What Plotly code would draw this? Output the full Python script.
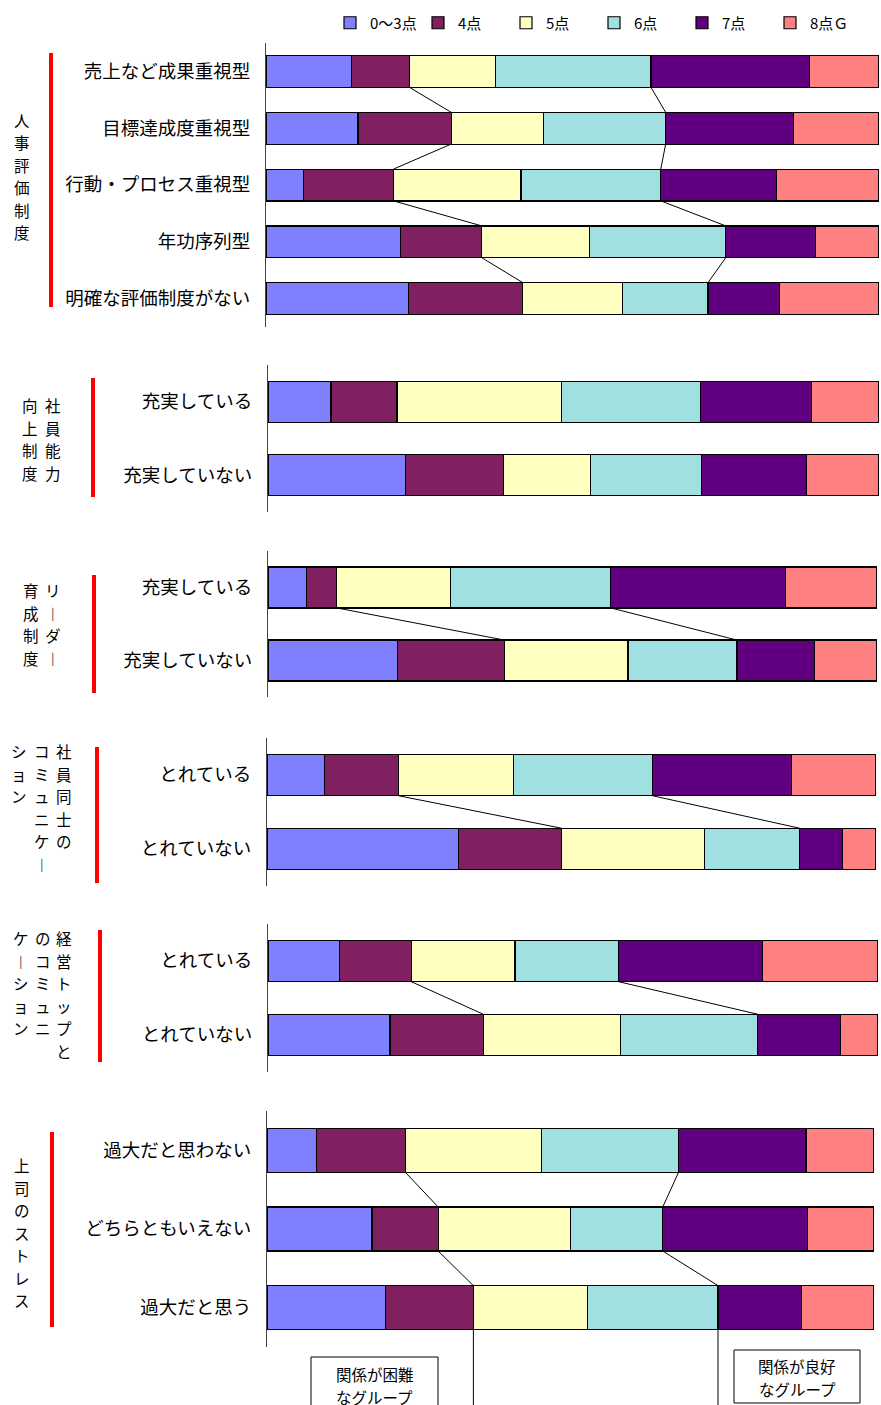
import plotly.graph_objects as go

W, H = 881, 1405

# ---------------- data ----------------
categories = ["0～3点", "4点", "5点", "6点", "7点", "8点Ｇ"]
colors = ["#8080FF", "#802060", "#FFFFC0", "#A0E0E0", "#600080", "#FF8080"]

hyoka_title = ["人事評価制度"]
hyoka_labels = ["売上など成果重視型", "目標達成度重視型", "行動・プロセス重視型", "年功序列型", "明確な評価制度がない"]
hyoka_values = [
    [13.9, 9.5, 14.0, 25.4, 25.8, 11.4],
    [15.0, 15.2, 15.1, 19.9, 20.9, 13.9],
    [6.1, 14.7, 20.8, 22.8, 18.9, 16.7],
    [21.9, 13.3, 17.6, 22.2, 14.7, 10.3],
    [23.3, 18.6, 16.2, 14.0, 11.7, 16.2],
]

noryoku_title = ["社員能力", "向上制度"]
noryoku_labels = ["充実している", "充実していない"]
noryoku_values = [
    [10.3, 10.8, 26.9, 22.8, 18.2, 11.0],
    [22.5, 16.1, 14.2, 18.2, 17.1, 11.9],
]

leader_title = ["リ︱ダ︱", "育成制度"]
leader_labels = ["充実している", "充実していない"]
leader_values = [
    [6.3, 5.0, 18.7, 26.3, 28.7, 15.0],
    [21.2, 17.6, 20.3, 17.9, 12.8, 10.2],
]

shain_title = ["社員同士の", "コミュニケ︱", "ション"]
shain_labels = ["とれている", "とれていない"]
shain_values = [
    [9.4, 12.2, 18.9, 22.8, 22.8, 13.9],
    [31.4, 17.0, 23.4, 15.7, 7.0, 5.5],
]

top_title = ["経営トップと", "のコミュニ", "ケ︱ション"]
top_labels = ["とれている", "とれていない"]
top_values = [
    [11.7, 11.8, 17.0, 17.0, 23.6, 18.9],
    [20.0, 15.3, 22.5, 22.5, 13.5, 6.2],
]

joshi_title = ["上司のストレス"]
joshi_labels = ["過大だと思わない", "どちらともいえない", "過大だと思う"]
joshi_values = [
    [8.1, 14.7, 22.4, 22.6, 21.0, 11.2],
    [17.3, 10.9, 21.8, 15.2, 23.9, 10.9],
    [19.5, 14.5, 18.8, 21.5, 13.7, 12.0],
]

box_left_lines = ["関係が困難", "なグループ"]
box_right_lines = ["関係が良好", "なグループ"]

# ---------------- layout geometry (screen pixels) ----------------
panels = [
    dict(labels=hyoka_labels, values=hyoka_values, title=hyoka_title, links=True,
         xdom=(266, 879), ydom=(43, 327), red=(51, 53, 307),
         cols=[(22, 120)]),
    dict(labels=noryoku_labels, values=noryoku_values, title=noryoku_title, links=False,
         xdom=(268, 879), ydom=(365, 512), red=(93, 378, 497),
         cols=[(53, 405), (30, 405)]),
    dict(labels=leader_labels, values=leader_values, title=leader_title, links=True,
         xdom=(268, 877), ydom=(551, 697), red=(94, 575, 693),
         cols=[(53, 590), (31, 590)]),
    dict(labels=shain_labels, values=shain_values, title=shain_title, links=True,
         xdom=(267, 876), ydom=(738, 886), red=(97, 747, 883),
         cols=[(64, 751), (42, 751), (19, 751)]),
    dict(labels=top_labels, values=top_values, title=top_title, links=True,
         xdom=(268, 878), ydom=(924, 1072), red=(100, 930, 1062),
         cols=[(64, 938), (43, 938), (21, 938)]),
    dict(labels=joshi_labels, values=joshi_values, title=joshi_title, links=True,
         xdom=(267, 874), ydom=(1111, 1347), red=(52, 1132, 1327),
         cols=[(22, 1165)]),
]

BW = 0.56
PITCH = 22.5
FONT = "Noto Sans CJK JP, sans-serif"


def px_x(x):
    return x / W


def px_y(y):
    return 1 - y / H


fig = go.Figure()
layout = dict(
    width=W, height=H,
    margin=dict(l=0, r=0, t=0, b=0, autoexpand=False),
    paper_bgcolor="white", plot_bgcolor="white",
    barmode="stack",
    font=dict(family=FONT, size=17, color="black"),
    showlegend=True,
    legend=dict(orientation="h", x=px_x(330), y=px_y(23), xanchor="left", yanchor="middle",
                font=dict(size=15, color="black", family=FONT), itemwidth=30, entrywidth=43,
                traceorder="normal", bgcolor="rgba(0,0,0,0)"),
)
shapes = []
annotations = []

for p, pan in enumerate(panels, start=1):
    xa = "x" if p == 1 else f"x{p}"
    ya = "y" if p == 1 else f"y{p}"
    n = len(pan["labels"])
    rows = list(range(n))
    for c, cat in enumerate(categories):
        fig.add_trace(go.Bar(
            x=[pan["values"][r][c] for r in rows], y=rows, orientation="h",
            name=cat, legendgroup=cat, showlegend=(p == 1),
            marker=dict(color=colors[c], line=dict(color="black", width=1.2)),
            width=BW, xaxis=xa, yaxis=ya, hoverinfo="skip",
        ))
    if pan["links"]:
        lx, ly = [], []
        for r in range(n - 1):
            for k in (2, 4):
                a = sum(pan["values"][r][:k])
                b = sum(pan["values"][r + 1][:k])
                lx += [a, b, None]
                ly += [r + BW / 2, r + 1 - BW / 2, None]
        fig.add_trace(go.Scatter(x=lx, y=ly, mode="lines", line=dict(color="black", width=1),
                                 showlegend=False, xaxis=xa, yaxis=ya, hoverinfo="skip"))
    x0, x1 = pan["xdom"]
    y0, y1 = pan["ydom"]
    layout["xaxis" if p == 1 else f"xaxis{p}"] = dict(
        domain=[px_x(x0), px_x(x1)], range=[0, 100], visible=False,
        anchor=ya, fixedrange=True, automargin=False)
    layout["yaxis" if p == 1 else f"yaxis{p}"] = dict(
        domain=[px_y(y1), px_y(y0)], range=[n - 0.5, -0.5], anchor=xa,
        tickvals=rows, ticktext=pan["labels"], ticks="", showgrid=False, zeroline=False,
        showline=True, linecolor="#444", linewidth=1, ticklabelstandoff=11,
        tickfont=dict(size=18.5, color="black", family=FONT), fixedrange=True,
        automargin=False)
    # red bracket line
    rx, ry0, ry1 = pan["red"]
    shapes.append(dict(type="line", xref="paper", yref="paper",
                       x0=px_x(rx), x1=px_x(rx), y0=px_y(ry0), y1=px_y(ry1),
                       line=dict(color="#FF0000", width=4)))
    # vertical group title columns (one character per line, top to bottom)
    for (cx, cy), col in zip(pan["cols"], pan["title"]):
        for i, ch in enumerate(col):
            annotations.append(dict(xref="paper", yref="paper", x=px_x(cx),
                                    y=px_y(cy + i * PITCH),
                                    xanchor="center", yanchor="middle", showarrow=False,
                                    text=ch, font=dict(size=15.5, color="black", family=FONT),
                                    borderpad=0))

# extension lines below last panel
last = panels[-1]
lv = last["values"][-1]
n6 = len(last["labels"])
yd0, yd1 = last["ydom"]
bar_bottom_px = yd0 + (n6 - 1 + BW / 2 + 0.5) / n6 * (yd1 - yd0)
for k in (2, 4):
    xv = sum(lv[:k])
    shapes.append(dict(type="line", xref="x6", yref="paper", x0=xv, x1=xv,
                       y0=px_y(bar_bottom_px), y1=-0.05,
                       line=dict(color="black", width=1)))

# boxes (frame + two text lines each)
for (bx0, by0, bx1, by1), lines, ty in [((311, 1357, 438, 1420), box_left_lines, 1374),
                                         ((734, 1350, 860, 1403), box_right_lines, 1366)]:
    shapes.append(dict(type="rect", xref="paper", yref="paper",
                       x0=px_x(bx0), x1=px_x(bx1), y0=px_y(by1), y1=px_y(by0),
                       line=dict(color="black", width=1), fillcolor="white", layer="above"))
    for i, t in enumerate(lines):
        annotations.append(dict(xref="paper", yref="paper", x=px_x((bx0 + bx1) / 2),
                                y=px_y(ty + i * 23), xanchor="center", yanchor="middle",
                                showarrow=False, text=t, borderpad=0,
                                font=dict(size=15.5, color="black", family=FONT)))

layout["shapes"] = shapes
layout["annotations"] = annotations
fig.update_layout(**layout)
fig.write_html("out.html", config={"displayModeBar": False},
               post_script="document.body.style.margin='0';document.body.style.overflow='hidden';")
